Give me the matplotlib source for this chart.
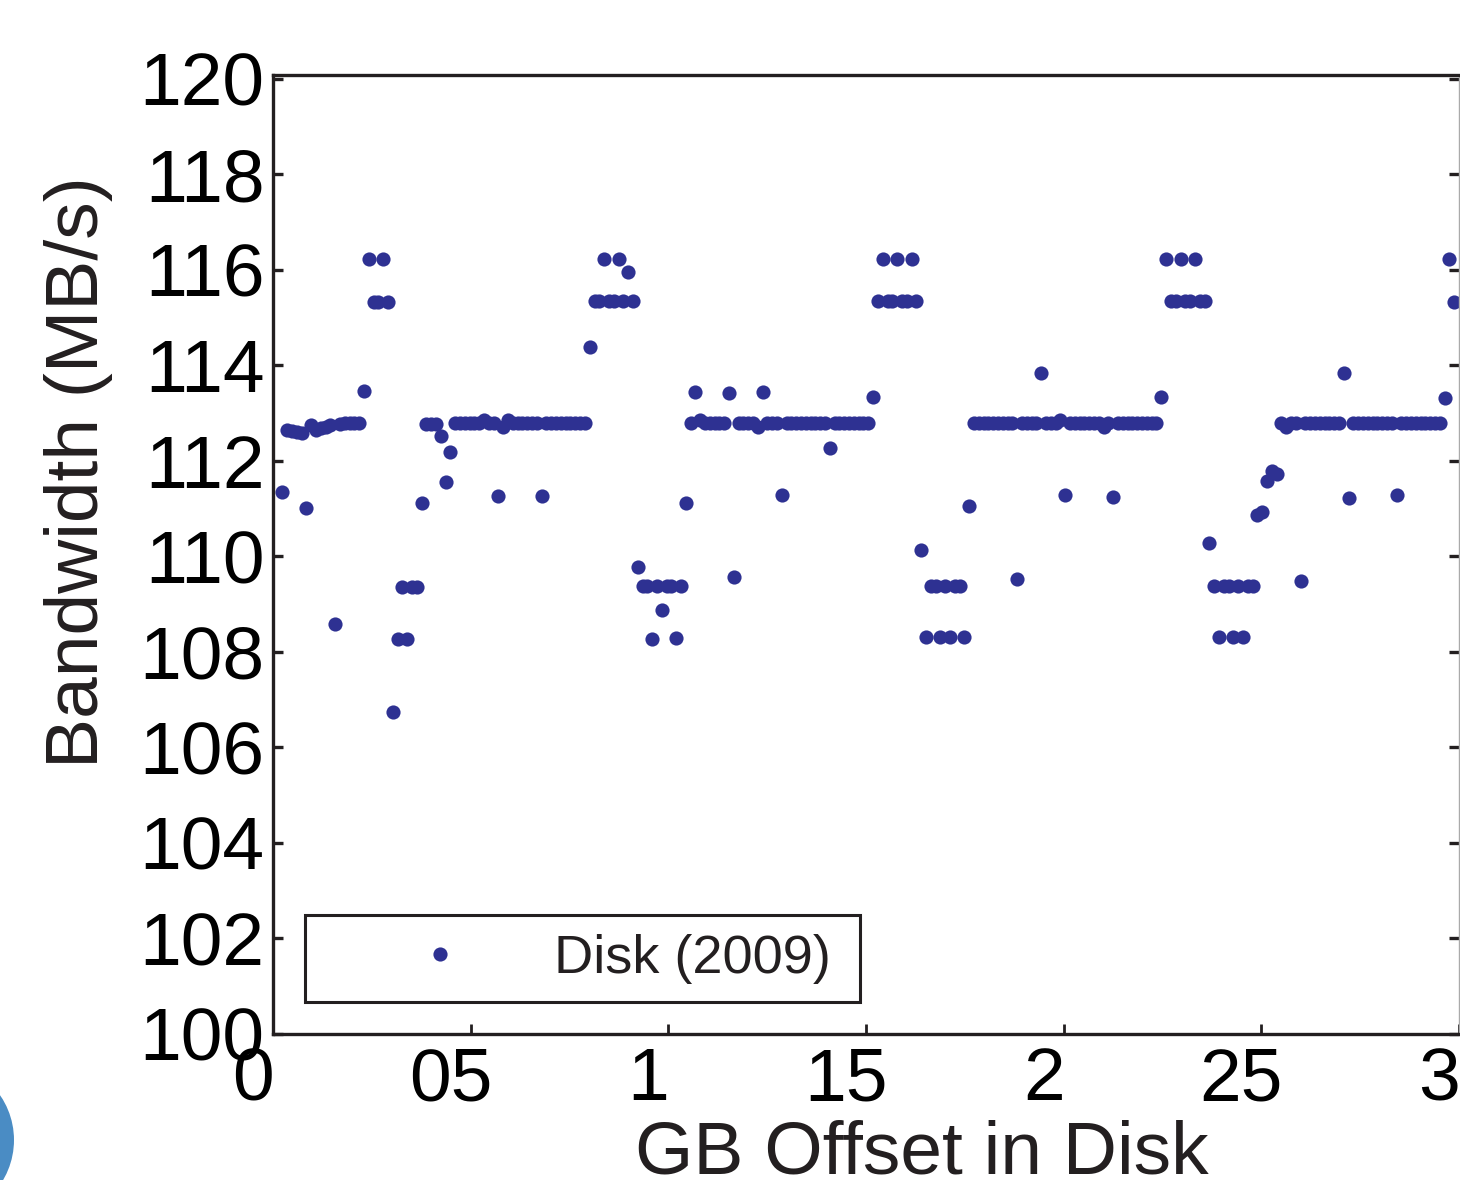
import numpy as np
import matplotlib.pyplot as plt
import matplotlib.transforms as mtransforms
from matplotlib.patches import Circle

plt.rcParams['font.family'] = ['Liberation Sans', 'DejaVu Sans']

# bandwidth read at each offset sample (MB/s), grouped by zone of the disk
lead_in = [111.34, 112.65, 112.62, 112.60, 112.58, 111.02, 112.75, 112.65, 112.68, 112.72,
           112.75, 108.59, 112.78, 112.80, 112.80, 112.80, 112.80, 113.46, 116.22, 115.32,
           115.32, 116.22, 115.32, 106.75, 108.28, 109.35, 108.28, 109.35, 109.35, 111.11,
           112.78, 112.78, 112.78, 112.52, 111.56, 112.19]
flat_1 = [112.80, 112.80, 112.80, 112.80, 112.80, 112.80, 112.85, 112.80, 112.80, 111.27,
          112.72, 112.86, 112.80, 112.80, 112.80, 112.80, 112.80, 112.80, 111.27, 112.80,
          112.80, 112.80, 112.80, 112.80, 112.80, 112.80, 112.80, 112.80]
swing_1 = [114.38, 115.34, 115.34, 116.22, 115.34, 115.34, 116.22, 115.34, 115.96, 115.34,
           109.78, 109.37, 109.37, 108.28, 109.37, 108.88, 109.37, 109.37, 108.30, 109.37,
           111.11]
flat_2 = [112.80, 113.45, 112.86, 112.80, 112.80, 112.80, 112.80, 112.80, 113.42, 109.56,
          112.80, 112.80, 112.80, 112.80, 112.72, 113.45, 112.80, 112.80, 112.80, 111.29,
          112.80, 112.80, 112.80, 112.80, 112.80, 112.80, 112.80, 112.80, 112.80, 112.27,
          112.80, 112.80, 112.80, 112.80, 112.80, 112.80, 112.80, 112.80, 113.34]
swing_2 = [115.34, 116.22, 115.34, 115.34, 116.22, 115.34, 115.34, 116.22, 115.34, 110.14,
           108.32, 109.37, 109.37, 108.32, 109.37, 108.32, 109.37, 109.37, 108.32, 111.06]
flat_3 = [112.80, 112.80, 112.80, 112.80, 112.80, 112.80, 112.80, 112.80, 112.80, 109.52,
          112.80, 112.80, 112.80, 112.80, 113.83, 112.80, 112.80, 112.80, 112.86, 111.29,
          112.80, 112.80, 112.80, 112.80, 112.80, 112.80, 112.80, 112.72, 112.80, 111.25,
          112.80, 112.80, 112.80, 112.80, 112.80, 112.80, 112.80, 112.80, 112.80, 113.34]
swing_3 = [116.22, 115.34, 115.34, 116.22, 115.34, 115.34, 116.22, 115.34, 115.34, 110.28,
           109.37, 108.32, 109.37, 109.37, 108.32, 109.37, 108.32, 109.37, 109.37, 110.87,
           110.92, 111.57, 111.79, 111.72]
flat_4 = [112.80, 112.72, 112.80, 112.80, 109.49, 112.80, 112.80, 112.80, 112.80, 112.80,
          112.80, 112.80, 112.80, 113.83, 111.23, 112.80, 112.80, 112.80, 112.80, 112.80,
          112.80, 112.80, 112.80, 112.80, 111.29, 112.80, 112.80, 112.80, 112.80, 112.80,
          112.80, 112.80, 112.80, 112.80, 113.32, 116.22, 115.32]

bandwidth = lead_in + flat_1 + swing_1 + flat_2 + swing_2 + flat_3 + swing_3 + flat_4

# samples were taken at a fixed offset step
first_offset = 0.0235  # GB
offset_step = 0.01215  # GB
offset_gb = first_offset + offset_step * np.arange(len(bandwidth))

x_ticks = [0, 0.5, 1, 1.5, 2, 2.5, 3]
x_tick_labels = ['0', '05', '1', '15', '2', '25', '3']
y_ticks = [100, 102, 104, 106, 108, 110, 112, 114, 116, 118, 120]

W, H = 1460, 1180
fig = plt.figure(figsize=(W / 100, H / 100), dpi=100)
ax = fig.add_axes([273 / W, 1 - 1034 / H, (1459 - 273) / W, (1034 - 75) / H])

ax.plot(offset_gb, bandwidth, 'o', color='#2e3192', markersize=10.2,
        markeredgewidth=0, label='Disk (2009)', clip_on=False)

ax.set_xlim(0, 2.995)
ax.set_ylim(100, 120.08)
ax.set_xticks(x_ticks)
ax.set_xticklabels(x_tick_labels)
ax.set_yticks(y_ticks)

for side in ['left', 'top', 'bottom']:
    ax.spines[side].set_linewidth(2.4)
    ax.spines[side].set_color('#231f20')
ax.spines['right'].set_linewidth(1.0)
ax.spines['right'].set_color('#aaaaaa')

ax.tick_params(axis='y', direction='in', length=7, width=2.4, color='#231f20',
               labelsize=54, pad=6, left=True, right=True)
ax.tick_params(axis='x', direction='in', length=7, width=2.0, color='#231f20',
               labelsize=54, pad=9, top=False)

# tick labels sit a bit left of their ticks in the original
shift = mtransforms.ScaledTranslation(-0.2, 0, fig.dpi_scale_trans)
for lab in ax.get_xticklabels():
    lab.set_transform(lab.get_transform() + shift)

fig.text(922 / W, 7 / H, 'GB Offset in Disk', ha='center', va='baseline',
         fontsize=54, color='#231f20')
fig.text(98 / W, 1 - 472 / H, 'Bandwidth (MB/s)', rotation=90,
         rotation_mode='anchor', ha='center', va='baseline', fontsize=54,
         color='#231f20')

leg = ax.legend(loc='lower left', mode='expand',
                bbox_to_anchor=(32 / 1186, 32 / 959, 555 / 1186, 0),
                fontsize=39, numpoints=1, handlelength=4.3, handletextpad=-0.05,
                borderpad=0.34, borderaxespad=0, fancybox=False, framealpha=1)
leg.get_frame().set_edgecolor('#231f20')
leg.get_frame().set_linewidth(2.2)
for t in leg.get_texts():
    t.set_color('#231f20')

# round badge cut off at the lower left corner
fig.patches.append(Circle((-0.65, 0.40), 0.79, transform=fig.dpi_scale_trans,
                          facecolor='#4a8cc4', edgecolor='none'))

fig.savefig('out.png', dpi=100)
